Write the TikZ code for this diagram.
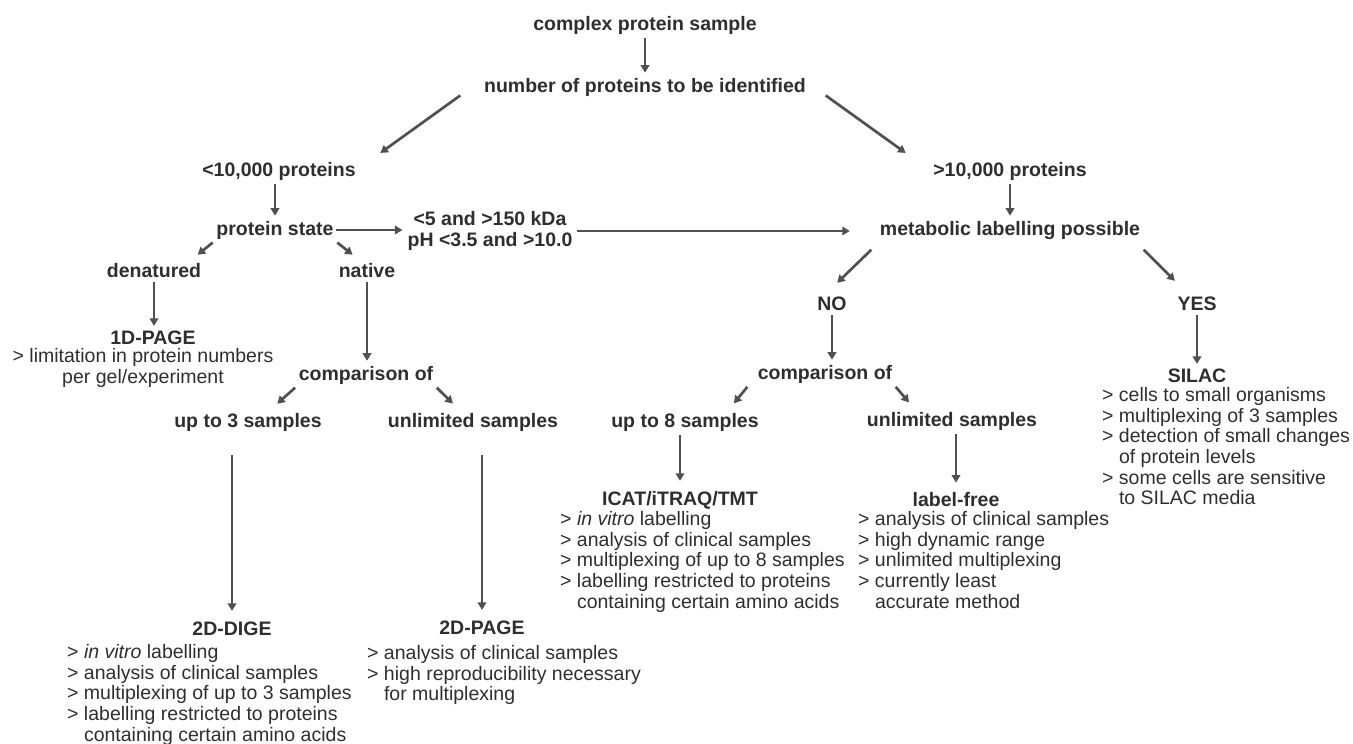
\documentclass[tikz,border=0pt]{standalone}
\usepackage{fontspec}
\setmainfont{Liberation Sans}
\usetikzlibrary{arrows.meta}
\definecolor{ink}{HTML}{2E2E2E}
\definecolor{wire}{HTML}{505050}

\begin{document}
\begin{tikzpicture}[x=1pt,y=1pt,
  lbl/.style={font=\fontsize{19.5}{20.7}\selectfont\bfseries,text=ink,inner sep=2pt},
  note/.style={font=\fontsize{19.5}{20.7}\selectfont,text=ink,inner sep=0pt,align=left,anchor=north west},
  arr/.style={draw=wire,line width=2.7pt,-{Triangle[length=7.5pt,width=8.5pt]},shorten <=2pt,shorten >=3pt}]
\useasboundingbox (0,0) rectangle (1353,-744);
% top of the tree
\node[lbl] (complex) at (645,-25) {complex protein sample};
\node[lbl] (number) at (645,-87) {number of proteins to be identified};
\node[lbl] (lt10) at (279,-171) {<10,000 proteins};
\node[lbl] (gt10) at (1010,-171) {>10,000 proteins};
\node[lbl] (pstate) at (275,-230) {protein state};
\node[lbl,align=center] (range) at (490,-231) {<5 and >150 kDa\\pH <3.5 and >10.0};
\node[lbl] (metab) at (1010,-230) {metabolic labelling possible};
% left branch
\node[lbl] (denat) at (154,-271) {denatured};\node[lbl] (native) at (367,-271) {native};
\node[lbl] (page1) at (153,-338) {1D-PAGE};
\node[note,align=center,anchor=center] (page1txt) at (143,-368) {> limitation in protein numbers\\per gel/experiment};
\node[lbl] (cmpL) at (366,-375) {comparison of};
\node[lbl] (up3) at (248,-422) {up to 3 samples};\node[lbl] (unlimL) at (473,-422) {unlimited samples};
\node[lbl] (dige) at (232,-629) {2D-DIGE};
\node[note] (digetxt) at (67,-644) {> \textit{in vitro} labelling\\> analysis of clinical samples\\> multiplexing of up to 3 samples\\> labelling restricted to proteins\\\phantom{> }containing certain amino acids};
\node[lbl] (page2) at (482,-628) {2D-PAGE};
\node[note] (page2txt) at (367,-645) {> analysis of clinical samples\\> high reproducibility necessary\\\phantom{> }for multiplexing};
% right branch
\node[lbl] (no) at (832,-304) {NO};\node[lbl] (yes) at (1197,-304) {YES};
\node[lbl] (cmpR) at (825,-374) {comparison of};
\node[lbl] (silac) at (1197,-376) {SILAC};
\node[note] (silactxt) at (1102,-387) {> cells to small organisms\\> multiplexing of 3 samples\\> detection of small changes\\\phantom{> }of protein levels\\> some cells are sensitive\\\phantom{> }to SILAC media};
\node[lbl] (up8) at (685,-422) {up to 8 samples};\node[lbl] (unlimR) at (952,-421) {unlimited samples};
\node[lbl] (icat) at (680,-500) {ICAT/iTRAQ/TMT};
\node[note] (icattxt) at (560,-511) {> \textit{in vitro} labelling\\> analysis of clinical samples\\> multiplexing of up to 8 samples\\> labelling restricted to proteins\\\phantom{> }containing certain amino acids};
\node[lbl] (lfree) at (956,-500) {label-free};
\node[note] (lfreetxt) at (858,-511) {> analysis of clinical samples\\> high dynamic range\\> unlimited multiplexing\\> currently least\\\phantom{> }accurate method};
% arrows
\draw[arr] (complex) -- (number);
\draw[arr] ([xshift=-20pt,yshift=4pt]number.south west) -- ([xshift=20pt,yshift=5pt]lt10.north east);
\draw[arr] ([xshift=16pt,yshift=4pt]number.south east) -- ([xshift=-23pt,yshift=5pt]gt10.north west);
\draw[arr] (lt10.south -| pstate) -- (pstate.north);\draw[arr] (gt10) -- (metab);
\draw[arr,shorten <=0pt] (pstate.east) -- (range.west |- pstate.east);
\draw[arr,shorten >=28pt] (range.east) -- (range.east -| metab.west);
\draw[arr] (pstate.south west) -- ([xshift=-8pt,yshift=5pt]denat.north east);
\draw[arr] (pstate.south east) -- ([xshift=-12pt,yshift=5pt]native.north);
\draw[arr] (denat) -- (denat |- page1.north);
\draw[arr] (native) -- (native |- cmpL.north);
\draw[arr] (cmpL.south west) -- ([xshift=27pt,yshift=5pt]up3.north);
\draw[arr] (cmpL.south east) -- ([xshift=-18pt,yshift=5pt]unlimL.north);
\draw[arr,shorten <=22pt,shorten >=9pt] (up3.south -| dige) -- (dige.north);
\draw[arr,shorten <=22pt,shorten >=9pt] (unlimL.south -| page2) -- (page2.north);
\draw[arr] ([xshift=-5pt,yshift=-7pt]metab.south west) -- ([xshift=3pt,yshift=10pt]no.north);
\draw[arr] ([yshift=-7pt]metab.south east) -- ([xshift=-20pt,yshift=12pt]yes.north);
\draw[arr] (no.south) -- (no.south |- cmpR.north);\draw[arr] (yes) -- (silac);
\draw[arr] ([xshift=-7pt]cmpR.south west) -- ([xshift=47pt,yshift=5pt]up8.north);
\draw[arr] (cmpR.south east) -- ([xshift=-41pt,yshift=5pt]unlimR.north);
\draw[arr,shorten >=8pt] (up8.south -| icat) -- (icat.north);
\draw[arr,shorten >=8pt] (unlimR.south -| lfree) -- (lfree.north);
\end{tikzpicture}
\end{document}
